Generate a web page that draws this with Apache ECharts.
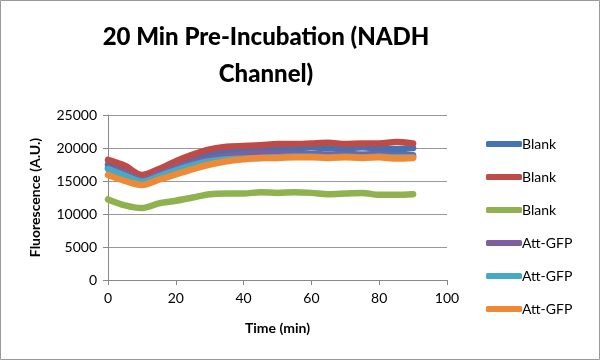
<!DOCTYPE html>
<html><head><meta charset="utf-8">
<script src="https://cdn.jsdelivr.net/npm/echarts@6/dist/echarts.min.js"></script>
<style>html,body{margin:0;padding:0;background:#fff}#c{width:600px;height:360px}</style>
</head><body><div id="c"></div>
<script>
const times = [0,5,10,15,20,25,30,35,40,45,50,55,60,65,70,75,80,85,90];
const seriesNames = ['Blank','Blank','Blank','Att-GFP','Att-GFP','Att-GFP'];
const seriesColors = ['#4173B5','#BE4B48','#8FB14E','#7D60A0','#46AAC5','#EE8936'];
const blank1 = [17500,16700,15500,16400,17500,18500,19200,19600,19800,19900,20000,20000,20100,20000,20000,20100,19900,19800,20000];
const blank2 = [18200,17300,15900,16800,18000,19000,19800,20200,20300,20400,20600,20600,20700,20800,20600,20700,20700,20900,20700];
const blank3 = [12200,11300,10900,11600,12000,12500,13000,13100,13100,13300,13200,13300,13200,13000,13100,13200,12900,12900,13000];
const att1 = [17000,16200,15100,16000,17000,17800,18400,18800,19000,19200,19200,19100,19100,19000,19100,19000,19100,18900,18900];
const att2 = [16800,15800,14900,15700,16600,17400,18000,18300,18400,18500,18600,18700,18700,18600,18700,18600,18700,18600,18600];
const att3 = [15900,15000,14400,15200,16000,16800,17500,18000,18300,18500,18500,18600,18600,18500,18600,18500,18600,18400,18500];
const allValues = [blank1, blank2, blank3, att1, att2, att3];
const xTicks = [0,20,40,60,80,100];
const yTicks = [0,5000,10000,15000,20000,25000];

// unique internal keys so the legend shows each entry (duplicate display names)
const keys = seriesNames.map((n,i)=> n + '\u200b'.repeat(i));

const chart = echarts.init(document.getElementById('c'), null, {renderer:'canvas'});
const font = 'Lato, "Open Sans", sans-serif';
chart.setOption({
  animation:false,
  backgroundColor:'#fff',
  graphic:[{type:'rect', shape:{x:0.5,y:0.5,width:599,height:359}, style:{fill:'none', stroke:'#999', lineWidth:1}, silent:true}],
  title:{
    text:'20 Min Pre-Incubation (NADH\nChannel)',
    left:261, top:14, textAlign:'center',
    textStyle:{fontFamily:font, fontSize:24, fontWeight:900, color:'#000', lineHeight:37}
  },
  legend:{
    orient:'vertical', left:481, top:131,
    data: keys,
    icon:'roundRect', itemWidth:36, itemHeight:6, itemGap:17,
    formatter: n => n.replace(/\u200b/g,''),
    textStyle:{fontFamily:font, fontSize:14, color:'#000', lineHeight:16, padding:[0,0,0,-5]}
  },
  grid:{left:108, right:153, top:115, bottom:80, containLabel:false},
  xAxis:{
    type:'value', min:0, max:100, interval:20,
    name:'Time (min)', nameLocation:'middle', nameGap:41,
    nameTextStyle:{fontFamily:font, fontSize:14, fontWeight:'bold', color:'#000'},
    axisLine:{show:true, lineStyle:{color:'#888', width:1}},
    axisTick:{show:true, length:5, lineStyle:{color:'#888'}},
    axisLabel:{fontFamily:font, fontSize:14, color:'#000', margin:11, customValues: xTicks},
    splitLine:{show:false}
  },
  yAxis:{
    type:'value', min:0, max:25000, interval:5000,
    name:'Fluorescence (A.U.)', nameLocation:'middle', nameGap:66,
    nameTextStyle:{fontFamily:font, fontSize:14, fontWeight:'bold', color:'#000'},
    axisLine:{show:true, lineStyle:{color:'#888', width:1}},
    axisTick:{show:true, length:5, lineStyle:{color:'#888'}},
    axisLabel:{fontFamily:font, fontSize:14, color:'#000', margin:11, customValues: yTicks, formatter: v => String(v)},
    splitLine:{show:true, lineStyle:{color:'#999', width:1}}
  },
  series: allValues.map((vals,i)=>({
    name: keys[i], type:'line', smooth:0.3, showSymbol:false, symbol:'none',
    data: times.map((t,j)=>[t, vals[j]]),
    lineStyle:{width:6.5, color:seriesColors[i], cap:'round'},
    itemStyle:{color:seriesColors[i]},
    z: 2 + i
  }))
});
</script></body></html>
